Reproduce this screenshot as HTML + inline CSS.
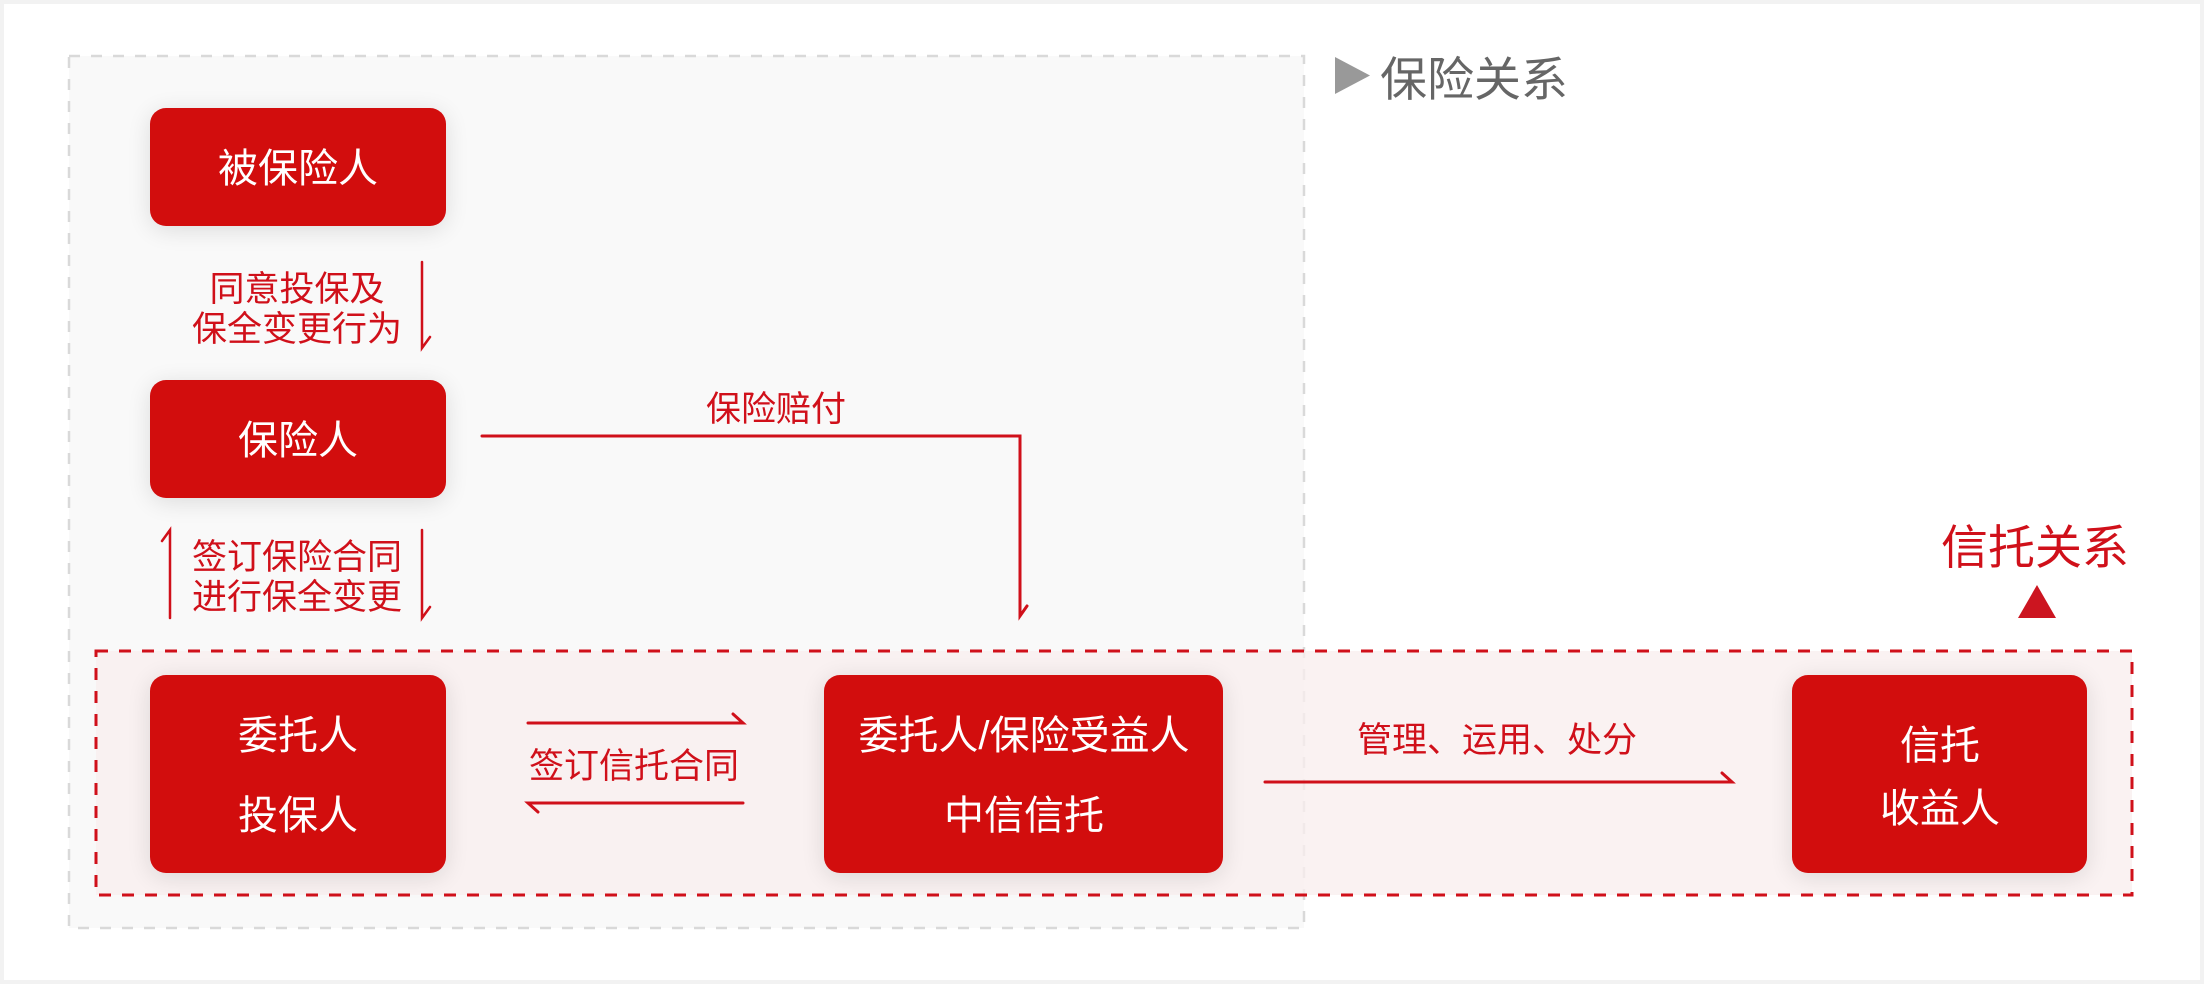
<!DOCTYPE html>
<html><head><meta charset="utf-8"><style>
html,body{margin:0;padding:0;background:#f2f2f2}
svg{display:block}
text{font-family:"Liberation Sans","Noto Sans CJK SC",sans-serif}
</style></head><body>
<svg width="2204" height="984" viewBox="0 0 2204 984" xmlns="http://www.w3.org/2000/svg">
<defs>
<filter id="sh" x="-30%" y="-30%" width="160%" height="160%">
<feGaussianBlur in="SourceAlpha" stdDeviation="12"/>
<feOffset dx="0" dy="4"/>
<feComponentTransfer><feFuncA type="linear" slope="0.12"/></feComponentTransfer>
<feMerge><feMergeNode/><feMergeNode in="SourceGraphic"/></feMerge>
</filter>
</defs>
<rect x="4" y="4" width="2196" height="976" fill="#fff"/>
<rect x="69" y="56" width="1235" height="872" fill="#f9f9f9" stroke="#d9d9d9" stroke-width="2.5" stroke-dasharray="11 11"/>
<polygon points="1335,57 1370,75.5 1335,94" fill="#999"/>
<text x="1380" y="96" font-size="47" fill="#666">保险关系</text>
<rect x="96" y="651" width="2036" height="244" fill="#f8eded" fill-opacity="0.75" stroke="#d0101a" stroke-width="3" stroke-dasharray="12 11"/>
<text x="1941" y="564" font-size="47" fill="#d0101a">信托关系</text>
<polygon points="2037,585 2056,618 2018,618" fill="#cc1520"/>
<g filter="url(#sh)" fill="#d20a11">
<rect x="150" y="108" width="296" height="118" rx="16"/>
<rect x="150" y="380" width="296" height="118" rx="16"/>
<rect x="150" y="675" width="296" height="198" rx="16"/>
<rect x="824" y="675" width="399" height="198" rx="16"/>
<rect x="1792" y="675" width="295" height="198" rx="16"/>
</g>
<g fill="#fff" font-size="40" text-anchor="middle">
<text x="298" y="182">被保险人</text>
<text x="298" y="454">保险人</text>
<text x="298" y="749">委托人</text>
<text x="298" y="829">投保人</text>
<text x="1024" y="749">委托人/保险受益人</text>
<text x="1024" y="829">中信信托</text>
<text x="1940" y="759">信托</text>
<text x="1940" y="822">收益人</text>
</g>
<g fill="#d0101a" font-size="35" text-anchor="middle">
<text x="297" y="301">同意投保及</text>
<text x="297" y="341">保全变更行为</text>
<text x="297" y="569">签订保险合同</text>
<text x="297" y="609">进行保全变更</text>
<text x="776" y="421">保险赔付</text>
<text x="634" y="778">签订信托合同</text>
<text x="1497" y="752">管理、运用、处分</text>
</g>
<g stroke="#d0101a" stroke-width="2.5" fill="none" stroke-linecap="round">
<path d="M422 262 V348 L430 337"/>
<path d="M170 618 V530 L162 541"/>
<path d="M422 530 V618 L430 607"/>
<path d="M482 436 H1020 V616 L1027 606" stroke-width="3"/>
<path d="M528 723 H743 L733 714" stroke-width="3"/>
<path d="M743 803 H528 L538 812" stroke-width="3"/>
<path d="M1265 782 H1732 L1722 773" stroke-width="3"/>
</g>
</svg>
</body></html>
